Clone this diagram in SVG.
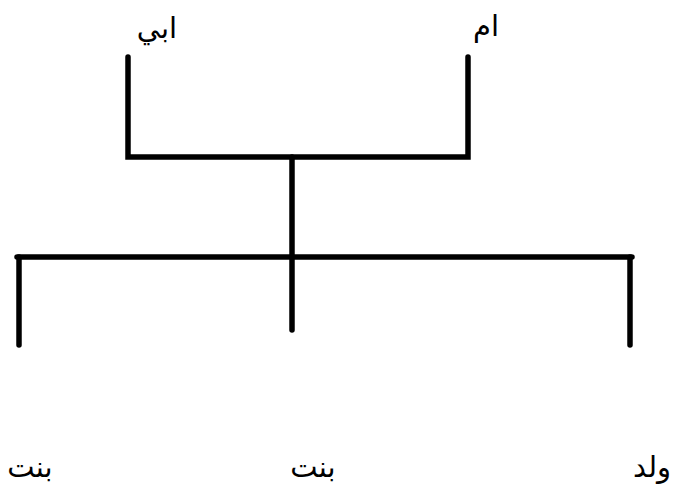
<svg xmlns="http://www.w3.org/2000/svg" width="679" height="499" viewBox="0 0 679 499">
<style>
.ln{stroke:#000;stroke-width:5.5;stroke-linecap:round;fill:none}
.t{font-family:"DejaVu Serif","DejaVu Sans","Noto Sans",serif;font-size:29px;fill:#000}
</style>
<rect width="679" height="499" fill="#fff"/>
<g id="connectors">
<path class="ln" d="M128 57V157H468V57"/>
<path class="ln" d="M292 157V330"/>
<path class="ln" d="M17 257H632"/>
<path class="ln" d="M19 257V345"/>
<path class="ln" d="M630 257V345"/>
</g>
<g id="father"><text class="t" x="157" y="38" text-anchor="middle" direction="rtl">ابي</text></g>
<g id="mother"><text class="t" x="486" y="36" text-anchor="middle" direction="rtl">ام</text></g>
<g id="daughter1"><text class="t" x="30" y="477" text-anchor="middle" direction="rtl">بنت</text></g>
<g id="daughter2"><text class="t" x="313" y="477" text-anchor="middle" direction="rtl">بنت</text></g>
<g id="son"><text class="t" x="652" y="477" text-anchor="middle" direction="rtl">ولد</text></g>
</svg>
